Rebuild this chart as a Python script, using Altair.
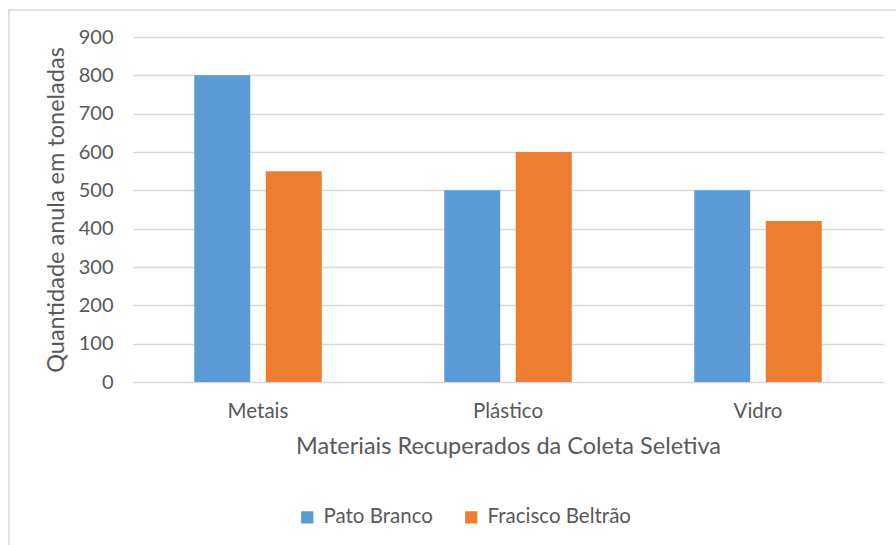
import altair as alt
import pandas as pd

materials = ["Metais", "Plástico", "Vidro"]
series = ["Pato Branco", "Fracisco Beltrão"]
pato_branco = [800, 500, 500]
francisco_beltrao = [550, 600, 420]
y_ticks = [0, 100, 200, 300, 400, 500, 600, 700, 800, 900]

rows = []
for i, m in enumerate(materials):
    rows.append({"Material": m, "Cidade": series[0], "Valor": pato_branco[i]})
    rows.append({"Material": m, "Cidade": series[1], "Valor": francisco_beltrao[i]})
df = pd.DataFrame(rows)

FONT = "Lato"
TXT = "#595959"

bars = alt.Chart(df).mark_bar().encode(
    x=alt.X("Material:N", sort=materials,
            scale=alt.Scale(paddingInner=0.49, paddingOuter=0.245),
            axis=alt.Axis(title="Materiais Recuperados da Coleta Seletiva", labelAngle=0,
                          domain=False, ticks=False, labelPadding=19, titlePadding=13,
                          labelFont=FONT, labelFontSize=20.5, labelColor=TXT,
                          titleFont=FONT, titleFontSize=23.5, titleColor=TXT, titleFontWeight="normal")),
    xOffset=alt.XOffset("Cidade:N", sort=series, scale=alt.Scale(paddingInner=0.217, paddingOuter=0)),
    y=alt.Y("Valor:Q", scale=alt.Scale(domain=[0, 900], nice=False),
            axis=alt.Axis(values=y_ticks, title="Quantidade anula em toneladas",
                          domain=False, ticks=False, labelPadding=20, titlePadding=10,
                          gridColor="#D9D9D9", gridWidth=1.3,
                          labelFont=FONT, labelFontSize=20, labelColor=TXT,
                          titleFont=FONT, titleFontSize=23.5, titleColor=TXT, titleFontWeight="normal")),
    color=alt.Color("Cidade:N", sort=series,
                    scale=alt.Scale(domain=series, range=["#5B9BD5", "#ED7D31"]),
                    legend=alt.Legend(title=None, orient="none", direction="horizontal",
                                      legendX=164, legendY=470, symbolType="square", symbolSize=150,
                                      symbolStrokeWidth=0,
                                      labelFont=FONT, labelFontSize=20.5, labelColor=TXT,
                                      columnPadding=28, labelOffset=6)),
)

frame = alt.Chart(pd.DataFrame({"a": [0]})).mark_rect(
    fill=None, stroke="#D9D9D9", strokeWidth=1.5
).encode(x=alt.value(-124), x2=alt.value(800), y=alt.value(-27), y2=alt.value(560))

chart = alt.layer(frame, bars).properties(
    width=750, height=345,
    autosize=alt.AutoSizeParams(type="none"),
    padding={"left": 133, "top": 37, "right": 13, "bottom": 163},
    background="white",
).configure_view(stroke=None)

chart.save("out.html", embed_options={"renderer": "svg", "actions": False})
